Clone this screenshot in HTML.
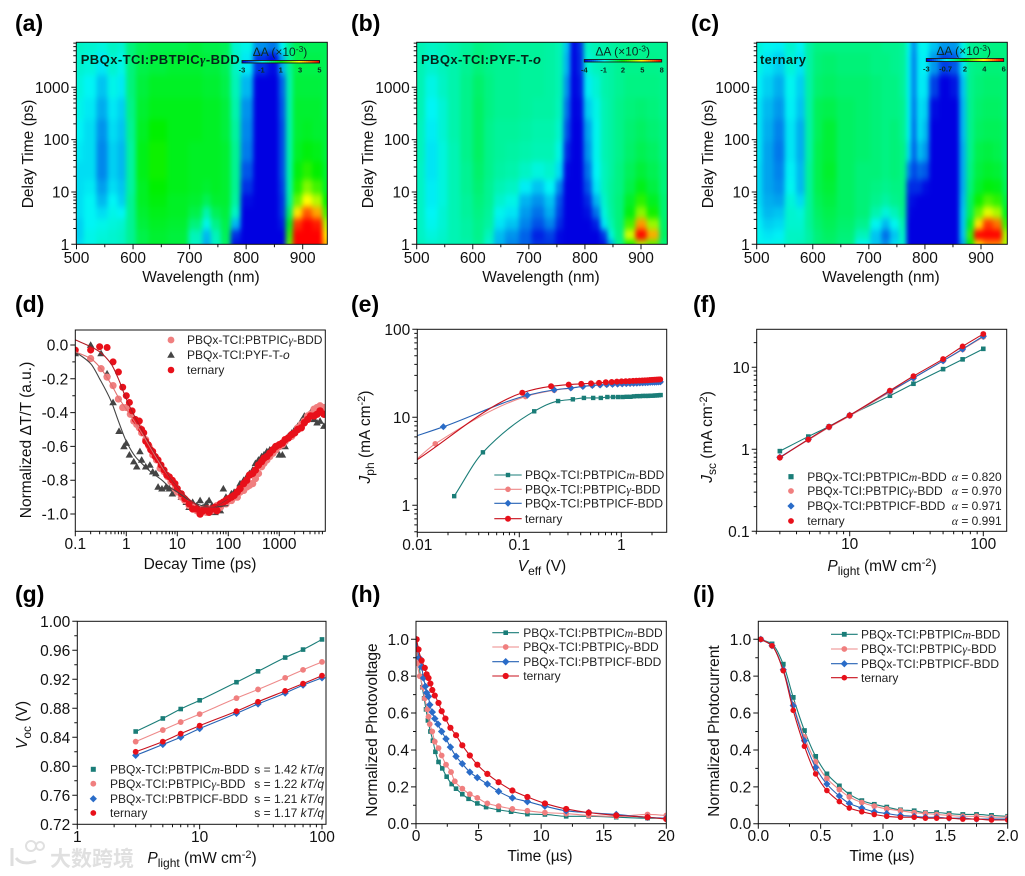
<!DOCTYPE html>
<html lang="en">
<head>
<meta charset="utf-8">
<title>Transient absorption and device physics figure</title>
<style>
html,body{margin:0;padding:0;background:#fff;}
#figure{display:block;}
text{font-family:"Liberation Sans",Arial,sans-serif;fill:#111;}
.tick{font-size:15.5px;}
.title{font-size:15.5px;text-anchor:middle;}
.panel{font-size:23px;font-weight:bold;fill:#000;}
.lg{font-size:12px;fill:#222;}
.ser{font-family:"Liberation Serif",serif;font-style:italic;}
.hm{font-size:13px;font-weight:bold;fill:#04261a;}
.cbt{font-size:12px;text-anchor:middle;fill:#0b2b20;}
.cbl{font-size:7.5px;font-weight:bold;text-anchor:middle;fill:#0b2b20;}
.wm{font-family:"Liberation Sans","Noto Sans CJK SC",sans-serif;font-size:21px;font-weight:bold;fill:#e0e0e0;}
</style>
</head>
<body>
<svg id="figure" xmlns="http://www.w3.org/2000/svg" width="1025" height="876" viewBox="0 0 1025 876">
<defs>
<filter id="hm-blur" filterUnits="userSpaceOnUse" x="0" y="0" width="1025" height="300" color-interpolation-filters="sRGB"><feGaussianBlur stdDeviation="2.4 3.2"/></filter>
</defs>

<g id="layer-plots"></g>

<g>
<text class="panel" x="15" y="31">(a)</text>
<text class="panel" x="351" y="31">(b)</text>
<text class="panel" x="691" y="31">(c)</text>
<text class="panel" x="15" y="312">(d)</text>
<text class="panel" x="351" y="312">(e)</text>
<text class="panel" x="693" y="312">(f)</text>
<text class="panel" x="15" y="602">(g)</text>
<text class="panel" x="351" y="602">(h)</text>
<text class="panel" x="693" y="602">(i)</text>
</g>

<g>
<text class="title" x="201" y="282">Wavelength (nm)</text>
<text class="title" x="541" y="282">Wavelength (nm)</text>
<text class="title" x="881" y="282">Wavelength (nm)</text>
<text class="title" transform="translate(33 154) rotate(-90)">Delay Time (ps)</text>
<text class="title" transform="translate(373 154) rotate(-90)">Delay Time (ps)</text>
<text class="title" transform="translate(713 154) rotate(-90)">Delay Time (ps)</text>

<text class="title" x="200" y="569">Decay Time (ps)</text>
<text class="title" transform="translate(31 440) rotate(-90)">Normalized ΔT/T (a.u.)</text>

<text class="title" x="542" y="571"><tspan font-style="italic">V</tspan><tspan dy="4" font-size="12">eff</tspan><tspan dy="-4"> (V)</tspan></text>
<text class="title" transform="translate(370 437) rotate(-90)"><tspan font-style="italic">J</tspan><tspan dy="4" font-size="12">ph</tspan><tspan dy="-4"> (mA cm</tspan><tspan dy="-5" font-size="11">-2</tspan><tspan dy="5">)</tspan></text>

<text class="title" x="882" y="571"><tspan font-style="italic">P</tspan><tspan dy="4" font-size="12">light</tspan><tspan dy="-4"> (mW cm</tspan><tspan dy="-5" font-size="11">-2</tspan><tspan dy="5">)</tspan></text>
<text class="title" transform="translate(712 437) rotate(-90)"><tspan font-style="italic">J</tspan><tspan dy="4" font-size="12">sc</tspan><tspan dy="-4"> (mA cm</tspan><tspan dy="-5" font-size="11">-2</tspan><tspan dy="5">)</tspan></text>

<text class="title" x="202" y="863"><tspan font-style="italic">P</tspan><tspan dy="4" font-size="12">light</tspan><tspan dy="-4"> (mW cm</tspan><tspan dy="-5" font-size="11">-2</tspan><tspan dy="5">)</tspan></text>
<text class="title" transform="translate(27 725) rotate(-90)"><tspan font-style="italic">V</tspan><tspan dy="4" font-size="12">oc</tspan><tspan dy="-4"> (V)</tspan></text>

<text class="title" x="540" y="861">Time (µs)</text>
<text class="title" transform="translate(377 730) rotate(-90)">Normalized Photovoltage</text>
<text class="title" x="882" y="861">Time (µs)</text>
<text class="title" transform="translate(719 731) rotate(-90)">Normalized Photocurrent</text>
</g>

<g>
<text class="hm" x="80.7" y="64" textLength="159" lengthAdjust="spacing">PBQx-TCI:PBTPIC<tspan font-family="Liberation Serif" font-style="italic">γ</tspan>-BDD</text>
<text class="hm" x="421" y="64" textLength="120" lengthAdjust="spacing">PBQx-TCI:PYF-T-<tspan font-style="italic">o</tspan></text>
<text class="hm" x="760" y="64" textLength="46" lengthAdjust="spacing">ternary</text>
<text class="cbt" x="280" y="56">ΔA (×10<tspan dy="-4" font-size="8.5">-3</tspan><tspan dy="4">)</tspan></text>
<text class="cbt" x="622.7" y="55.5">ΔA (×10<tspan dy="-4" font-size="8.5">-3</tspan><tspan dy="4">)</tspan></text>
<text class="cbt" x="963.7" y="55">ΔA (×10<tspan dy="-4" font-size="8.5">-3</tspan><tspan dy="4">)</tspan></text>
</g>

<g>
<text class="lg" x="187" y="344">PBQx-TCI:PBTPIC<tspan class="ser">γ</tspan>-BDD</text>
<text class="lg" x="187" y="359">PBQx-TCI:PYF-T-<tspan font-style="italic">o</tspan></text>
<text class="lg" x="187" y="374">ternary</text>
</g>
<g>
<text class="lg" x="525" y="479">PBQx-TCI:PBTPIC<tspan class="ser">m</tspan>-BDD</text>
<text class="lg" x="525" y="493.5">PBQx-TCI:PBTPIC<tspan class="ser">γ</tspan>-BDD</text>
<text class="lg" x="525" y="507.5">PBQx-TCI:PBTPICF-BDD</text>
<text class="lg" x="525" y="523">ternary</text>
</g>
<g>
<text class="lg" x="807.3" y="481">PBQx-TCI:PBTPIC<tspan class="ser">m</tspan>-BDD</text>
<text class="lg" x="807.3" y="495">PBQx-TCI:PBTPIC<tspan class="ser">γ</tspan>-BDD</text>
<text class="lg" x="807.3" y="510">PBQx-TCI:PBTPICF-BDD</text>
<text class="lg" x="807.3" y="525">ternary</text>
<text class="lg" x="951.7" y="481"><tspan class="ser">α</tspan> = 0.820</text>
<text class="lg" x="951.7" y="495"><tspan class="ser">α</tspan> = 0.970</text>
<text class="lg" x="951.7" y="510"><tspan class="ser">α</tspan> = 0.971</text>
<text class="lg" x="951.7" y="525"><tspan class="ser">α</tspan> = 0.991</text>
</g>
<g>
<text class="lg" x="110" y="773.5">PBQx-TCI:PBTPIC<tspan class="ser">m</tspan>-BDD</text>
<text class="lg" x="110" y="788">PBQx-TCI:PBTPIC<tspan class="ser">γ</tspan>-BDD</text>
<text class="lg" x="110" y="803">PBQx-TCI:PBTPICF-BDD</text>
<text class="lg" x="110" y="817">ternary</text>
<text class="lg" x="254.3" y="773.5">s = 1.42 <tspan font-style="italic">kT/q</tspan></text>
<text class="lg" x="254.3" y="788">s = 1.22 <tspan font-style="italic">kT/q</tspan></text>
<text class="lg" x="254.3" y="803">s = 1.21 <tspan font-style="italic">kT/q</tspan></text>
<text class="lg" x="254.3" y="817">s = 1.17 <tspan font-style="italic">kT/q</tspan></text>
</g>
<g>
<text class="lg" x="523.3" y="637">PBQx-TCI:PBTPIC<tspan class="ser">m</tspan>-BDD</text>
<text class="lg" x="523.3" y="651">PBQx-TCI:PBTPIC<tspan class="ser">γ</tspan>-BDD</text>
<text class="lg" x="523.3" y="666">PBQx-TCI:PBTPICF-BDD</text>
<text class="lg" x="523.3" y="680">ternary</text>
</g>
<g>
<text class="lg" x="861" y="638.5">PBQx-TCI:PBTPIC<tspan class="ser">m</tspan>-BDD</text>
<text class="lg" x="861" y="653">PBQx-TCI:PBTPIC<tspan class="ser">γ</tspan>-BDD</text>
<text class="lg" x="861" y="668">PBQx-TCI:PBTPICF-BDD</text>
<text class="lg" x="861" y="682">ternary</text>
</g>

<g>
<circle cx="31" cy="846" r="5" fill="none" stroke="#e0e0e0" stroke-width="2"/>
<circle cx="40" cy="846" r="4" fill="none" stroke="#e0e0e0" stroke-width="2"/>
<path d="M12 848 V866 M16 858 Q22 866 36 861" fill="none" stroke="#dedede" stroke-width="3"/>
<text class="wm" x="50" y="866">大数跨境</text>
</g>
</svg>

<script>
/* ---------- shared heatmap axis data ---------- */
const delayRows = [1,1.5,2.5,4,7,12,25,60,150,400,1000,3000,7300];
const wlTicks = [500,600,700,800,900];
const wlTickLabels = ['500','600','700','800','900'];
const wlMinorTicks = [550,650,750,850];
const delayTicks = [1,10,100,1000];
const delayTickLabels = ['1','10','100','1000'];

/* panel a: ΔA (×10^-3), rows bottom to top */
const wlA = [500,525,545,565,580,595,615,640,680,715,730,745,765,780,800,825,850,865,875,890,908,925,945];
const rangeA = [-3,5];
const cbLabelsA = ['-3','-1','1','3','5'];
const heatA = [
[-1.2,-.9,-.7,-.7,-.6,-.2,.4,.6,.5,-.6,-1.6,-.6,.2,-2.9,-3,-3,-3,-3,1.8,5,5,5,3.5],
[-1.3,-.9,-.8,-.7,-.6,-.2,.4,.6,.5,-.5,-1.5,-.5,.3,-2.6,-3,-3,-3,-3,1.4,5,5,5,3.2],
[-1.3,-1,-.9,-.8,-.7,-.2,.5,.7,.6,0,-.9,-.1,.4,-1.5,-3,-3,-3,-2.8,.8,4.6,5,4.8,2.4],
[-1.2,-1,-1.2,-.9,-1,-.2,.6,.8,.7,.4,-.4,.3,.5,-.6,-3,-3,-3,-2.6,.2,3.2,4.3,3.7,1.5],
[-1.2,-1,-1.5,-1,-1.3,-.2,.7,.9,.7,.6,.3,.6,.6,-.3,-2.9,-3,-3,-2.6,-.3,1.8,3,2.4,1],
[-1.2,-1.1,-1.7,-1.2,-1.4,-.3,.7,1,.8,.7,.6,.7,.6,-.2,-2.6,-3,-3,-2.5,-.4,1.2,2,1.5,.7],
[-1.2,-1.2,-1.9,-1.3,-1.5,-.3,.8,1.1,.8,.7,.7,.7,.6,-.2,-2.3,-3,-3,-2.4,-.4,.9,1.3,1,.6],
[-1.1,-1.2,-1.9,-1.3,-1.5,-.3,.8,1.1,.8,.7,.7,.7,.6,-.2,-2,-3,-3,-2.4,-.4,.7,.9,.8,.5],
[-1,-1.2,-1.8,-1.2,-1.4,-.2,.7,1,.8,.8,.7,.7,.5,-.3,-1.9,-3,-3,-2.4,-.4,.6,.7,.6,.5],
[-.9,-1.1,-1.6,-1.1,-1.3,-.1,.6,.8,.8,.8,.7,.7,.5,-.4,-1.8,-3,-3,-2.3,-.4,.6,.6,.6,.4],
[-.8,-1,-1.4,-.9,-1.1,0,.5,.7,.7,.7,.6,.6,.4,-.5,-1.5,-3,-3,-2.2,-.4,.5,.5,.5,.4],
[-.7,-.8,-1.1,-.7,-.9,0,.4,.5,.6,.6,.5,.5,.3,-.6,-1.1,-2.6,-2.9,-1.6,-.3,.4,.4,.4,.3],
[-.6,-.7,-.8,-.6,-.7,0,.3,.4,.4,.5,.4,.4,.3,-.7,-.9,-1.8,-2,-1,-.2,.3,.3,.3,.3]
];

/* panel b */
const wlB = [500,530,545,565,590,610,630,645,670,695,715,740,755,768,780,790,805,820,835,845,860,880,900,920,945];
const rangeB = [-4,8];
const cbLabelsB = ['-4','-1','2','5','8'];
const heatB = [
[-.3,-.5,-.4,-.2,-.1,.2,-.6,-1.8,-2.4,-2.8,-3.4,-3.4,-3.9,-4,-4,-4,-4,-4,-3.8,-2,.2,2.2,4,3,.5],
[-.4,-.7,-.5,-.2,0,.3,-.3,-1.7,-2.2,-2.8,-3.6,-3.2,-3.9,-4,-4,-4,-4,-4,-3.3,-.7,.4,4.5,8,6,.8],
[-.4,-.9,-.6,-.2,0,.3,0,-1.2,-1.6,-2.4,-3,-2.4,-3.5,-4,-4,-4,-4,-3.6,-1.2,-.2,.5,2.8,6.2,3.8,.7],
[-.4,-1,-.6,-.2,.1,.4,.1,-.9,-1.2,-2.1,-2.6,-1.9,-3.2,-4,-4,-4,-3.8,-2.6,-.7,0,.5,1.8,3.6,2.2,.6],
[-.4,-1.1,-.7,-.2,.1,.5,.2,-.5,-.8,-1.8,-2.2,-1.6,-3,-4,-4,-4,-3.5,-1.8,-.5,.1,.5,1.5,2.5,1.6,.6],
[-.4,-1.1,-.7,-.2,.2,.6,.2,-.2,-.4,-1.1,-1.6,-1,-2.4,-4,-4,-4,-3,-1.2,-.3,.1,.4,1.1,1.7,1.2,.5],
[-.4,-1.2,-.7,-.2,.2,.7,.3,0,-.1,-.4,-.7,-.5,-1.3,-3.9,-4,-4,-2.6,-1,-.3,0,.4,.9,1.3,1,.5],
[-.3,-1.2,-.7,-.2,.3,.8,.3,.1,0,-.1,-.2,-.2,-.8,-3.5,-4,-4,-2.2,-.9,-.2,0,.3,.7,1,.8,.4],
[-.3,-1.1,-.6,-.1,.3,.8,.3,.1,.1,0,-.1,-.1,-.5,-3,-4,-4,-2,-.9,-.2,0,.3,.6,.8,.6,.4],
[-.2,-1,-.6,-.1,.3,.8,.4,.2,.2,.1,0,0,-.3,-2.6,-4,-3.9,-1.5,-.8,-.2,0,.3,.5,.6,.5,.3],
[-.2,-.8,-.4,-.1,.3,.7,.4,.2,.2,.1,.1,0,-.2,-2.2,-4,-3.7,-1.1,-.6,-.1,0,.2,.4,.4,.4,.3],
[-.2,-.5,-.3,-.1,.2,.5,.3,.2,.2,.1,.1,0,-.2,-1.8,-4,-3.5,-.6,-.3,-.1,0,.2,.3,.3,.3,.2],
[-.2,-.4,-.3,-.1,.1,.4,.3,.2,.1,.1,.1,0,-.2,-1.6,-4,-3.4,-.4,-.2,-.1,0,.1,.2,.2,.2,.2]
];

/* panel c */
const wlC = [500,520,540,560,580,592,610,625,660,690,715,730,745,762,772,780,790,800,815,835,855,868,880,895,912,930,945];
const rangeC = [-3,6];
const cbLabelsC = ['-3','-0.7','2','4','6'];
const heatC = [
[-.7,-.7,-.6,-.3,-.2,0,.4,.5,.3,-.7,-1.2,-1.7,-1,-.4,-3,-3,-3,-3,-3,-3,-3,-1.5,1.5,4,4.8,4.8,3],
[-.7,-.9,-.8,-.3,-.3,0,.4,.6,.4,-.2,-1.2,-2,-1.2,-.3,-3,-3,-3,-3,-3,-3,-3,-1.2,2,6,6,6,3],
[-.8,-1.1,-1,-.4,-.4,.1,.5,.7,.5,.2,-.7,-1.3,-.7,-.1,-3,-3,-3,-3,-3,-3,-3,-1.2,1.2,4,5.5,5,2],
[-.9,-1.3,-1.2,-.4,-.5,.1,.6,.8,.6,.4,-.1,-.5,-.2,.2,-2.9,-3,-3,-3,-3,-3,-3,-1.2,.7,2.4,3.5,3,1.2],
[-1,-1.4,-1.5,-.5,-1,.1,.7,.9,.6,.4,.2,0,.2,.3,-2.8,-2.9,-3,-3,-3,-3,-3,-1.3,.6,1.6,2.2,1.9,.9],
[-1,-1.5,-1.7,-.7,-1.3,.1,.8,1,.6,.4,.3,.2,.3,.3,-2.6,-2.6,-2.6,-2.9,-3,-3,-3,-1.4,.4,1.1,1.4,1.3,.7],
[-1,-1.5,-1.8,-.8,-1.3,.1,.8,1.1,.6,.4,.4,.3,.4,.3,-1.8,-2.4,-2,-2.2,-3,-3,-3,-1.4,.3,.9,1.1,1,.6],
[-.9,-1.5,-1.9,-.9,-1.4,0,.8,1,.6,.5,.4,.3,.4,.3,-1,-2.2,-1.2,-1.6,-3,-3,-3,-1.4,.2,.8,.9,.8,.5],
[-.9,-1.4,-1.8,-.9,-1.4,0,.7,1,.6,.5,.4,.3,.4,.2,-.8,-2.1,-.9,-1.3,-3,-3,-3,-1.3,.2,.6,.7,.7,.5],
[-.9,-1.3,-1.6,-.8,-1.2,0,.7,.8,.6,.5,.4,.3,.3,.2,-.8,-2,-.9,-1.1,-2.9,-3,-3,-1.3,.2,.5,.6,.6,.4],
[-.8,-1.1,-1.4,-.7,-1.1,0,.5,.6,.5,.5,.4,.3,.3,.1,-.8,-1.9,-.8,-.9,-2.4,-3,-2.8,-1.2,.2,.4,.5,.5,.4],
[-.6,-.9,-1.1,-.5,-.9,0,.4,.5,.4,.4,.3,.3,.2,.1,-.8,-1.9,-.8,-.8,-1.6,-2.4,-2.2,-.9,.2,.3,.4,.4,.3],
[-.5,-.7,-.8,-.4,-.7,0,.3,.3,.3,.3,.3,.2,.2,.1,-.7,-1.8,-.7,-.7,-1.2,-1.6,-1.6,-.6,.1,.2,.3,.3,.3]
];

/* panel d: kinetics */
const dTimeLate = [20,24,28,32,37,42,48,55,60,70,80,90,100,115,130,150,170,200,230,260,300,340,390,450,500,570,650,750,860,1000,1150,1300,1500,1750,2000,2300,2700,3100,3600,4100,4800,5500,6300,7500];
const dTernaryLate = [-.97,-.97,-1,-.98,-.97,-.99,-.97,-.96,-.98,-.94,-.93,-.92,-.91,-.9,-.89,-.87,-.85,-.82,-.8,-.77,-.76,-.74,-.71,-.69,-.67,-.66,-.64,-.62,-.6,-.59,-.58,-.56,-.55,-.53,-.52,-.5,-.49,-.46,-.44,-.42,-.42,-.41,-.39,-.41];
const dGammaLate = [-.96,-.98,-.99,-.97,-.99,-.97,-.98,-.97,-.95,-.96,-.93,-.94,-.92,-.92,-.9,-.9,-.87,-.86,-.84,-.83,-.82,-.79,-.76,-.72,-.7,-.68,-.66,-.64,-.62,-.6,-.59,-.57,-.55,-.54,-.52,-.49,-.47,-.45,-.42,-.41,-.38,-.37,-.36,-.37];
const dPyfLate = [-.93,-.95,-.92,-.96,-.94,-.92,-.95,-.99,-.96,-.98,-.85,-.9,-.92,-.88,-.87,-.86,-.82,-.8,-.78,-.76,-.74,-.7,-.68,-.66,-.65,-.63,-.62,-.61,-.62,-.65,-.65,-.6,-.54,-.52,-.5,-.48,-.45,-.42,-.42,-.4,-.44,-.46,-.45,-.48];
const dTimeTernaryEarly = [.1,.2,.3,.42,.55,.7,.85,1,1.15,1.3,1.5,1.6,1.8,2,2.2,2.4,2.7,3,3.3,3.7,4.2,4.8,5.5,6.2,7,8,9,10,12,14,17];
const dTernaryEarly = [-.03,-.03,-.01,-.015,-.1,-.16,-.25,-.3,-.34,-.39,-.44,-.45,-.45,-.5,-.52,-.57,-.59,-.62,-.63,-.66,-.68,-.71,-.74,-.77,-.78,-.8,-.82,-.85,-.88,-.91,-.94];
const dTimeGammaEarly = [.2,.32,.42,.55,.7,.85,1,1.2,1.4,1.6,1.8,2,2.4,2.8,3.3,3.9,4.6,5.5,6.5,7.5,9,10,12,14,17];
const dGammaEarly = [-.08,-.14,-.19,-.24,-.32,-.37,-.37,-.41,-.45,-.47,-.49,-.52,-.56,-.6,-.65,-.68,-.73,-.75,-.78,-.81,-.85,-.87,-.9,-.92,-.95];
const dTimePyfEarly = [.1,.2,.32,.42,.55,.72,.9,1,1.15,1.4,1.6,1.85,2,2.4,2.9,3.3,3.8,4.2,5,6,7,8,10,12,15,17];
const dPyfEarly = [-.05,0,-.05,-.17,-.34,-.51,-.6,-.58,-.65,-.69,-.72,-.63,-.68,-.72,-.71,-.75,-.76,-.84,-.85,-.84,-.85,-.88,-.87,-.9,-.93,-.96];
const dFitTimes = [.1,.2,.3,.5,.7,1,1.5,2,3,5,7,10,20,30,50,70,100];
const dFitTernary = [.03,-.01,-.04,-.11,-.2,-.32,-.43,-.5,-.6,-.71,-.78,-.84,-.93,-.96,-.96,-.94,-.91];
const dFitGamma = [-.04,-.08,-.13,-.23,-.31,-.38,-.46,-.52,-.61,-.72,-.78,-.84,-.93,-.96,-.96,-.94,-.91];
const dFitPyf = [-.04,-.11,-.2,-.33,-.45,-.57,-.66,-.7,-.75,-.8,-.84,-.87,-.93,-.95,-.96,-.955,-.95];
const dXTicks = [.1,1,10,100,1000];
const dXLabels = ['0.1','1','10','100','1000'];
const dYTicks = [0,-.2,-.4,-.6,-.8,-1];
const dYLabels = ['0.0','-0.2','-0.4','-0.6','-0.8','-1.0'];
const dYMinor = [-.1,-.3,-.5,-.7,-.9];

/* panel e: Jph vs Veff */
const eVTeal = [.023,.044,.14,.24,.335,.43,.53,.63,.73,.83,.93,1.03,1.13,1.23,1.33,1.43,1.53,1.63,1.73,1.83,1.93,2.03,2.13,2.23,2.33,2.43];
const eJTeal = [1.27,4,11.7,15.3,16,16.6,16.6,16.6,17,17,17,17,17.1,17.1,17.3,17.4,17.4,17.5,17.5,17.5,17.6,17.6,17.7,17.7,17.8,17.9];
const eVPink = [.009,.015,.115,.22,.32,.42,.52,.62,.72,.82,.92,1.02,1.12,1.22,1.32,1.42,1.52,1.62,1.72,1.82,1.92,2.02,2.12,2.22,2.32,2.42];
const eJPink = [3.05,5,17.2,20.3,21.5,22.5,23,23.3,23.5,23.7,23.9,24,24.1,24.2,24.3,24.4,24.5,24.6,24.7,24.8,24.9,25,25,25.1,25.2,25.3];
const eVBlue = [.009,.018,.12,.22,.32,.42,.52,.62,.72,.82,.92,1.02,1.12,1.22,1.32,1.42,1.52,1.62,1.72,1.82,1.92,2.02,2.12,2.22,2.32,2.42];
const eJBlue = [5.95,7.8,17.8,20.5,21.5,22.4,23,23.3,23.5,23.7,23.8,24,24.1,24.2,24.3,24.4,24.5,24.6,24.7,24.8,24.9,25,25,25.1,25.2,25.3];
const eVRed = [.009,.107,.205,.305,.405,.505,.605,.705,.805,.905,1.005,1.105,1.205,1.305,1.405,1.505,1.605,1.705,1.805,1.905,2.005,2.105,2.205,2.305,2.405];
const eJRed = [3.05,19,22.5,23.5,24,24.3,24.6,25,25.2,25.4,25.6,25.7,25.8,25.9,26,26.1,26.2,26.3,26.4,26.5,26.6,26.7,26.8,26.9,27];
const eXTicks = [.01,.1,1];
const eXLabels = ['0.01','0.1','1'];
const eYTicks = [1,10,100];
const eYLabels = ['1','10','100'];

/* panel f: Jsc vs Plight */
const fPower = [3,4.9,7,10,20,30,50,70,100];
const fJTeal = [.95,1.43,1.9,2.6,4.5,6.3,9.5,12.5,16.8];
const fJPink = [.8,1.3,1.85,2.55,5,7.4,12,16.5,23.5];
const fJBlue = [.8,1.32,1.88,2.6,5.1,7.4,12,16.7,24];
const fJRed = [.79,1.32,1.88,2.6,5.2,7.8,12.6,18,25.5];
const fXTicks = [10,100];
const fXLabels = ['10','100'];
const fYTicks = [.1,1,10];
const fYLabels = ['0.1','1','10'];

/* panel g: Voc vs Plight */
const gPower = [3,5,7,10,20,30,50,70,100];
const gVTeal = [.848,.866,.879,.891,.916,.931,.950,.961,.975];
const gVPink = [.834,.850,.861,.872,.894,.906,.922,.933,.944];
const gVBlue = [.815,.830,.840,.852,.873,.886,.901,.912,.922];
const gVRed = [.820,.834,.845,.856,.876,.889,.904,.914,.925];
const gXTicks = [1,10,100];
const gXLabels = ['1','10','100'];
const gYTicks = [.72,.76,.80,.84,.88,.92,.96,1];
const gYLabels = ['0.72','0.76','0.80','0.84','0.88','0.92','0.96','1.00'];
const gYMinor = [.74,.78,.82,.86,.90,.94,.98];

/* panel h: photovoltage decay */
const hTimeTeal = [.05,.2,.35,.5,.65,.8,.95,1.15,1.35,1.55,1.8,2.1,2.45,2.85,3.2,3.7,4.2,4.9,5.6,6.6,7.6,8.9,10.3,12,13.8,16,18.5,20];
const hTeal = [1,.9,.8,.74,.68,.62,.56,.5,.45,.39,.335,.3,.255,.215,.19,.16,.135,.11,.09,.075,.065,.052,.05,.04,.04,.035,.03,.03];
const hTimePink = [.05,.1,.3,.55,.7,.9,1,1.1,1.3,1.5,1.8,2.05,2.4,2.8,3.1,3.7,4.3,4.9,5.7,6.6,7.7,8.9,10.3,12,13.8,16,18.5,20];
const hPink = [1,.87,.8,.74,.68,.62,.58,.54,.5,.445,.41,.37,.32,.28,.23,.19,.16,.14,.11,.095,.08,.07,.06,.055,.045,.04,.05,.045];
const hTimeBlue = [0,.1,.25,.45,.6,.75,.85,1,1.1,1.3,1.5,1.75,2.05,2.4,2.75,3.2,3.7,4.3,4.9,5.7,6.6,7.7,8.9,10.3,12,13.8,16,18.5,20];
const hBlue = [1,.95,.9,.85,.79,.745,.71,.69,.645,.605,.57,.54,.5,.46,.415,.365,.325,.28,.25,.215,.175,.14,.12,.095,.07,.06,.05,.035,.03];
const hTimeRed = [.05,.2,.45,.7,.85,1,1.15,1.3,1.5,1.8,2.05,2.35,2.75,3.2,3.7,4.3,4.9,5.7,6.6,7.7,8.9,10.3,12,13.8,16,18.5,20];
const hRed = [1,.945,.885,.845,.81,.79,.76,.725,.695,.655,.61,.57,.52,.48,.425,.37,.32,.27,.225,.18,.145,.11,.08,.06,.045,.035,.025];
const hXTicks = [0,5,10,15,20];
const hXLabels = ['0','5','10','15','20'];
const hXMinor = [2.5,7.5,12.5,17.5];
const normTicks = [0,.2,.4,.6,.8,1];
const normLabels = ['0.0','0.2','0.4','0.6','0.8','1.0'];
const normMinor = [.1,.3,.5,.7,.9];

/* panel i: photocurrent decay */
const iTime = [.02,.11,.2,.28,.37,.46,.55,.65,.73,.83,.93,1.03,1.14,1.25,1.34,1.43,1.53,1.64,1.75,1.87,2];
const iTeal = [1,.975,.865,.685,.505,.365,.27,.205,.16,.125,.105,.09,.075,.07,.06,.06,.055,.05,.05,.045,.04];
const iPink = [1,.965,.835,.645,.47,.335,.245,.185,.145,.115,.095,.08,.07,.06,.055,.05,.045,.04,.04,.035,.035];
const iBlue = [1,.965,.835,.64,.45,.305,.215,.15,.11,.085,.065,.055,.045,.04,.035,.035,.03,.03,.025,.025,.025];
const iRed = [1,.965,.83,.615,.42,.27,.18,.12,.085,.065,.05,.04,.035,.035,.03,.03,.03,.025,.025,.02,.02];
const iXTicks = [0,.5,1,1.5,2];
const iXLabels = ['0.0','0.5','1.0','1.5','2.0'];
const iXMinor = [.25,.75,1.25,1.75];

/* ---------- drawing helpers ---------- */
const NS = 'http://www.w3.org/2000/svg';
const root = document.getElementById('layer-plots');
const TEAL = '#1a7d78', PINK = '#f07f7f', BLUE = '#2a6cc8', RED = '#e8101a', DARK = '#444444';
const LINE = {[TEAL]:'#1a7d78',[PINK]:'#ee8a8a',[BLUE]:'#2763b5',[RED]:'#c8101c',[DARK]:'#444444'};
let clipCount = 0;

function add(tag, attrs, parent) {
  const node = document.createElementNS(NS, tag);
  for (const k in attrs) node.setAttribute(k, attrs[k]);
  (parent || root).appendChild(node);
  return node;
}
function group(name, parent) {
  const g = add('g', {}, parent);
  
  
  return g;
}
function linScale(v0, p0, v1, p1) {
  return v => p0 + (v - v0) * (p1 - p0) / (v1 - v0);
}
function logScale(v0, p0, v1, p1) {
  return v => p0 + (Math.log10(v) - Math.log10(v0)) * (p1 - p0) / (Math.log10(v1) - Math.log10(v0));
}
function logMinors(a, b) {
  const out = [];
  for (let e = Math.floor(Math.log10(a)); e <= Math.ceil(Math.log10(b)); e++) {
    for (let m = 2; m <= 9; m++) {
      const v = m * Math.pow(10, e);
      if (v >= a * 0.999 && v <= b * 1.001) out.push(v);
    }
  }
  return out;
}
function clipFor(box) {
  const id = 'clip-' + (++clipCount);
  const cp = add('clipPath', {id: id}, root);
  add('rect', {x: box[0], y: box[1], width: box[2] - box[0], height: box[3] - box[1]}, cp);
  return id;
}
function axes(o) {
  const g = group('axes-' + o.name);
  const b = o.box;
  const frame = add('rect', {x: b[0], y: b[1], width: b[2] - b[0], height: b[3] - b[1], fill: 'none', stroke: '#111', 'stroke-width': 1}, g);
  
  
  let d = '';
  (o.xTicks).forEach(v => { d += 'M' + o.x(v) + ' ' + b[3] + 'v5'; });
  (o.yTicks).forEach(v => { d += 'M' + b[0] + ' ' + o.y(v) + 'h-5'; });
  (o.xMinor || []).forEach(v => { d += 'M' + o.x(v) + ' ' + b[3] + 'v3'; });
  (o.yMinor || []).forEach(v => { d += 'M' + b[0] + ' ' + o.y(v) + 'h-3'; });
  const ticks = add('path', {d: d, stroke: '#111', 'stroke-width': 1, fill: 'none'}, g);
  
  
  o.xTicks.forEach((v, i) => {
    const t = add('text', {class: 'tick', x: o.x(v), y: o.xLabelY, 'text-anchor': 'middle'}, g);
    t.textContent = o.xLabels[i];
    
    
  });
  o.yTicks.forEach((v, i) => {
    const t = add('text', {class: 'tick', x: b[0] - 7, y: o.y(v) + 5.5, 'text-anchor': 'end'}, g);
    t.textContent = o.yLabels[i];
    
    
  });
}
function colorAt(t) {
  const stops = [[0,0,0,225],[.25,0,245,245],[.5,0,240,0],[.75,255,255,0],[1,255,0,0]];
  t = Math.max(0, Math.min(1, t));
  for (let i = 1; i < stops.length; i++) {
    if (t <= stops[i][0]) {
      const a = stops[i - 1], b = stops[i], f = (t - a[0]) / (b[0] - a[0]);
      return 'rgb(' + Math.round(a[1] + f * (b[1] - a[1])) + ',' + Math.round(a[2] + f * (b[2] - a[2])) + ',' + Math.round(a[3] + f * (b[3] - a[3])) + ')';
    }
  }
  return 'rgb(255,0,0)';
}
function heatmap(name, box, xs, ys, wl, delays, grid, range) {
  const outer = group('heatmap-' + name);
  outer.setAttribute('clip-path', 'url(#' + clipFor(box) + ')');
  const blur = group('heatmap-cells-' + name, outer);
  blur.setAttribute('filter', 'url(#hm-blur)');
  delays.forEach((dl, r) => {
    const yBot = r === 0 ? ys(dl) + 14 : (ys(delays[r - 1]) + ys(dl)) / 2;
    const yTop = r === delays.length - 1 ? ys(dl) - 14 : (ys(dl) + ys(delays[r + 1])) / 2;
    wl.forEach((w, c) => {
      const xL = c === 0 ? xs(w) - 14 : (xs(wl[c - 1]) + xs(w)) / 2;
      const xR = c === wl.length - 1 ? xs(w) + 14 : (xs(w) + xs(wl[c + 1])) / 2;
      const v = grid[r][c];
      const cell = add('rect', {x: xL, y: yTop, width: xR - xL + .4, height: yBot - yTop + .4, fill: colorAt((v - range[0]) / (range[1] - range[0]))}, blur);
      
      
    });
  });
}
function colorbar(name, x0, x1, y0, y1, labels, labelY) {
  const g = group('colorbar-' + name);
  const segs = 40;
  for (let i = 0; i < segs; i++) {
    const seg = add('rect', {x: x0 + (x1 - x0) * i / segs, y: y0, width: (x1 - x0) / segs + .3, height: y1 - y0, fill: colorAt(i / (segs - 1))}, g);
    
    
  }
  const line = add('rect', {x: x0, y: y0, width: x1 - x0, height: y1 - y0, fill: 'none', stroke: '#1a1a1a', 'stroke-width': .9}, g);
  
  
  labels.forEach((s, i) => {
    const lx = x0 + (x1 - x0) * i / (labels.length - 1);
    const t = add('text', {class: 'cbl', x: lx, y: labelY}, g);
    t.textContent = s;
    
    
  });
}
function marker(shape, cx, cy, r, color, parent, name) {
  let m;
  if (shape === 'square') {
    m = add('rect', {x: cx - r, y: cy - r, width: 2 * r, height: 2 * r, fill: color}, parent);
  } else if (shape === 'diamond') {
    m = add('polygon', {points: cx + ',' + (cy - r * 1.25) + ' ' + (cx + r * 1.25) + ',' + cy + ' ' + cx + ',' + (cy + r * 1.25) + ' ' + (cx - r * 1.25) + ',' + cy, fill: color}, parent);
  } else if (shape === 'triangle') {
    m = add('polygon', {points: cx + ',' + (cy - r * 1.15) + ' ' + (cx + r * 1.15) + ',' + (cy + r * .85) + ' ' + (cx - r * 1.15) + ',' + (cy + r * .85), fill: color}, parent);
  } else {
    m = add('circle', {cx: cx, cy: cy, r: r, fill: color}, parent);
  }
  
  
  return m;
}
/* monotone cubic path in pixel space: no overshoot across unevenly spaced points */
function spline(pts) {
  const n = pts.length, sec = [], m = [];
  for (let i = 0; i < n - 1; i++) sec.push((pts[i + 1][1] - pts[i][1]) / (pts[i + 1][0] - pts[i][0]));
  m[0] = sec[0];
  m[n - 1] = sec[n - 2];
  for (let i = 1; i < n - 1; i++) {
    m[i] = sec[i - 1] * sec[i] <= 0 ? 0 : 2 * sec[i - 1] * sec[i] / (sec[i - 1] + sec[i]);
  }
  let d = 'M' + pts[0][0] + ' ' + pts[0][1];
  for (let i = 0; i < n - 1; i++) {
    const dx = (pts[i + 1][0] - pts[i][0]) / 3;
    d += 'C' + (pts[i][0] + dx) + ' ' + (pts[i][1] + m[i] * dx) + ' ' +
         (pts[i + 1][0] - dx) + ' ' + (pts[i + 1][1] - m[i + 1] * dx) + ' ' + pts[i + 1][0] + ' ' + pts[i + 1][1];
  }
  return d;
}
function curve(name, box, xs, ys, X, Y, color, parent) {
  const pts = X.map((v, i) => [xs(v), ys(Y[i])]);
  const g = parent || group(name);
  const path = add('path', {d: spline(pts), fill: 'none', stroke: LINE[color] || color, 'stroke-width': 1.1, 'clip-path': 'url(#' + clipFor(box) + ')'}, g);
  
  
  return g;
}
function dots(name, box, xs, ys, X, Y, shape, r, color, parent) {
  const g = group(name + '-points', parent);
  g.setAttribute('clip-path', 'url(#' + clipFor(box) + ')');
  X.forEach((v, i) => { marker(shape, xs(v), ys(Y[i]), r, color, g, name + '-point'); });
}
function series(name, box, xs, ys, X, Y, shape, r, color) {
  const g = curve(name, box, xs, ys, X, Y, color);
  dots(name, box, xs, ys, X, Y, shape, r, color, g);
}
function legendKey(name, shape, r, color, cx, cy, x0, x1) {
  const g = group('legend-key-' + name);
  if (x0 !== undefined) {
    const l = add('line', {x1: x0, x2: x1, y1: cy, y2: cy, stroke: LINE[color] || color, 'stroke-width': 1.1}, g);
    
    
  }
  marker(shape, cx, cy, r, color, g, 'legend-marker');
}

/* ---------- heatmaps ---------- */
const yDelay = logScale(1, 244.3, 1000, 87.3);
const hmPanels = [
  {n: 'a', box: [76.3, 42.3, 327.3, 244.3], x: linScale(500, 76.5, 900, 302.7), wl: wlA, grid: heatA, range: rangeA, cb: [242, 319.5, 60.5, 63, cbLabelsA, 72.5]},
  {n: 'b', box: [416.7, 42.3, 667.3, 244.3], x: linScale(500, 416.7, 900, 641), wl: wlB, grid: heatB, range: rangeB, cb: [584.3, 661.7, 59.5, 62, cbLabelsB, 72.5]},
  {n: 'c', box: [756.7, 42.3, 1007.3, 244.3], x: linScale(500, 756.7, 900, 981), wl: wlC, grid: heatC, range: rangeC, cb: [926.3, 1003.7, 58.5, 61.5, cbLabelsC, 71.5]}
];
hmPanels.forEach(p => {
  heatmap(p.n, p.box, p.x, yDelay, p.wl, delayRows, p.grid, p.range);
  axes({name: p.n, box: p.box, x: p.x, y: yDelay, xTicks: wlTicks, xLabels: wlTickLabels, xMinor: wlMinorTicks,
        yTicks: delayTicks, yLabels: delayTickLabels, yMinor: logMinors(1, 7300), xLabelY: 263});
  colorbar(p.n, p.cb[0], p.cb[1], p.cb[2], p.cb[3], p.cb[4], p.cb[5]);
});

/* ---------- panel d ---------- */
(function () {
  const box = [75.3, 330, 325.3, 531.3];
  const x = logScale(.1, 75.3, 1000, 279.3), y = linScale(0, 345, -1, 514);
  const g = group('series-d');
  dots('pyf-t-o-early', box, x, y, dTimePyfEarly, dPyfEarly, 'triangle', 3.3, DARK, g);
  dots('pyf-t-o-late', box, x, y, dTimeLate, dPyfLate, 'triangle', 3.3, DARK, g);
  dots('gamma-early', box, x, y, dTimeGammaEarly, dGammaEarly, 'circle', 3.6, PINK, g);
  dots('gamma-late', box, x, y, dTimeLate, dGammaLate, 'circle', 3.7, PINK, g);
  dots('ternary-early', box, x, y, dTimeTernaryEarly, dTernaryEarly, 'circle', 3.5, RED, g);
  dots('ternary-late', box, x, y, dTimeLate, dTernaryLate, 'circle', 3.7, RED, g);
  curve('fit-pyf-t-o', box, x, y, dFitTimes, dFitPyf, DARK, g);
  curve('fit-gamma', box, x, y, dFitTimes, dFitGamma, '#e07070', g);
  curve('fit-ternary', box, x, y, dFitTimes, dFitTernary, '#b01a22', g);
  axes({name: 'd', box: box, x: x, y: y, xTicks: dXTicks, xLabels: dXLabels, xMinor: logMinors(.1, 7943),
        yTicks: dYTicks, yLabels: dYLabels, yMinor: dYMinor, xLabelY: 549});
  legendKey('d-gamma', 'circle', 3.4, PINK, 171, 340);
  legendKey('d-pyf', 'triangle', 3.3, DARK, 171, 355);
  legendKey('d-ternary', 'circle', 3.3, RED, 171, 370);
})();

/* ---------- panel e ---------- */
(function () {
  const box = [417.3, 329.3, 666.7, 532.3];
  const x = logScale(.01, 417.3, 1, 621.3), y = logScale(1, 505.3, 100, 329.3);
  series('jph-m-bdd', box, x, y, eVTeal, eJTeal, 'square', 2.2, TEAL);
  series('jph-gamma-bdd', box, x, y, eVPink, eJPink, 'circle', 2.8, PINK);
  series('jph-cf-bdd', box, x, y, eVBlue, eJBlue, 'diamond', 2.8, BLUE);
  series('jph-ternary', box, x, y, eVRed, eJRed, 'circle', 3, RED);
  axes({name: 'e', box: box, x: x, y: y, xTicks: eXTicks, xLabels: eXLabels, xMinor: logMinors(.01, 2.8),
        yTicks: eYTicks, yLabels: eYLabels, yMinor: logMinors(.5, 100), xLabelY: 550});
  legendKey('e-m', 'square', 2.2, TEAL, 508, 475, 494.3, 521.7);
  legendKey('e-gamma', 'circle', 2.8, PINK, 508, 489.3, 494.3, 521.7);
  legendKey('e-cf', 'diamond', 2.8, BLUE, 508, 503.3, 494.3, 521.7);
  legendKey('e-ternary', 'circle', 3, RED, 508, 518.7, 494.3, 521.7);
})();

/* ---------- panel f ---------- */
(function () {
  const box = [756.7, 329.3, 1006.7, 531.3];
  const x = logScale(10, 849.7, 100, 983.3), y = logScale(.1, 531.3, 10, 367.3);
  series('jsc-m-bdd', box, x, y, fPower, fJTeal, 'square', 2.3, TEAL);
  series('jsc-gamma-bdd', box, x, y, fPower, fJPink, 'circle', 2.9, PINK);
  series('jsc-cf-bdd', box, x, y, fPower, fJBlue, 'diamond', 2.9, BLUE);
  series('jsc-ternary', box, x, y, fPower, fJRed, 'circle', 2.9, RED);
  axes({name: 'f', box: box, x: x, y: y, xTicks: fXTicks, xLabels: fXLabels, xMinor: logMinors(2, 149),
        yTicks: fYTicks, yLabels: fYLabels, yMinor: logMinors(.1, 29), xLabelY: 549});
  legendKey('f-m', 'square', 2.6, TEAL, 791, 476.7);
  legendKey('f-gamma', 'circle', 2.9, PINK, 791, 491);
  legendKey('f-cf', 'diamond', 2.9, BLUE, 791, 506);
  legendKey('f-ternary', 'circle', 2.9, RED, 791, 521);
})();

/* ---------- panel g ---------- */
(function () {
  const box = [77.3, 621.3, 326, 824.3];
  const x = logScale(1, 77.3, 100, 322), y = linScale(.72, 824.3, 1, 621.3);
  series('voc-m-bdd', box, x, y, gPower, gVTeal, 'square', 2.3, TEAL);
  series('voc-gamma-bdd', box, x, y, gPower, gVPink, 'circle', 2.9, PINK);
  series('voc-cf-bdd', box, x, y, gPower, gVBlue, 'diamond', 2.9, BLUE);
  series('voc-ternary', box, x, y, gPower, gVRed, 'circle', 2.9, RED);
  axes({name: 'g', box: box, x: x, y: y, xTicks: gXTicks, xLabels: gXLabels, xMinor: logMinors(1, 108),
        yTicks: gYTicks, yLabels: gYLabels, yMinor: gYMinor, xLabelY: 842});
  legendKey('g-m', 'square', 2.5, TEAL, 93.3, 769.3);
  legendKey('g-gamma', 'circle', 2.9, PINK, 93.3, 783.7);
  legendKey('g-cf', 'diamond', 2.9, BLUE, 93.3, 798.7);
  legendKey('g-ternary', 'circle', 2.9, RED, 93.3, 813);
})();

/* ---------- panel h ---------- */
(function () {
  const box = [416, 621.3, 666.3, 823.7];
  const x = linScale(0, 416, 20, 666.3), y = linScale(0, 823.7, 1, 639.3);
  series('photovoltage-m-bdd', box, x, y, hTimeTeal, hTeal, 'square', 2.3, TEAL);
  series('photovoltage-gamma-bdd', box, x, y, hTimePink, hPink, 'circle', 2.9, PINK);
  series('photovoltage-cf-bdd', box, x, y, hTimeBlue, hBlue, 'diamond', 3, BLUE);
  series('photovoltage-ternary', box, x, y, hTimeRed, hRed, 'circle', 3.1, RED);
  axes({name: 'h', box: box, x: x, y: y, xTicks: hXTicks, xLabels: hXLabels, xMinor: hXMinor,
        yTicks: normTicks, yLabels: normLabels, yMinor: normMinor, xLabelY: 841});
  legendKey('h-m', 'square', 2.3, TEAL, 505.7, 632.7, 492.3, 519);
  legendKey('h-gamma', 'circle', 2.9, PINK, 505.7, 647, 492.3, 519);
  legendKey('h-cf', 'diamond', 3, BLUE, 505.7, 661.7, 492.3, 519);
  legendKey('h-ternary', 'circle', 3.1, RED, 505.7, 676, 492.3, 519);
})();

/* ---------- panel i ---------- */
(function () {
  const box = [758.3, 621.3, 1007.7, 823.7];
  const x = linScale(0, 758.3, 2, 1007.7), y = linScale(0, 823.7, 1, 639.3);
  series('photocurrent-m-bdd', box, x, y, iTime, iTeal, 'square', 2.4, TEAL);
  series('photocurrent-gamma-bdd', box, x, y, iTime, iPink, 'circle', 2.9, PINK);
  series('photocurrent-cf-bdd', box, x, y, iTime, iBlue, 'diamond', 2.9, BLUE);
  series('photocurrent-ternary', box, x, y, iTime, iRed, 'circle', 2.8, RED);
  axes({name: 'i', box: box, x: x, y: y, xTicks: iXTicks, xLabels: iXLabels, xMinor: iXMinor,
        yTicks: normTicks, yLabels: normLabels, yMinor: normMinor, xLabelY: 841});
  legendKey('i-m', 'square', 2.4, TEAL, 844.3, 634.3, 831, 857.7);
  legendKey('i-gamma', 'circle', 2.9, PINK, 844.3, 649, 831, 857.7);
  legendKey('i-cf', 'diamond', 2.9, BLUE, 844.3, 663.7, 831, 857.7);
  legendKey('i-ternary', 'circle', 2.8, RED, 844.3, 677.7, 831, 857.7);
})();
</script>
</body>
</html>
